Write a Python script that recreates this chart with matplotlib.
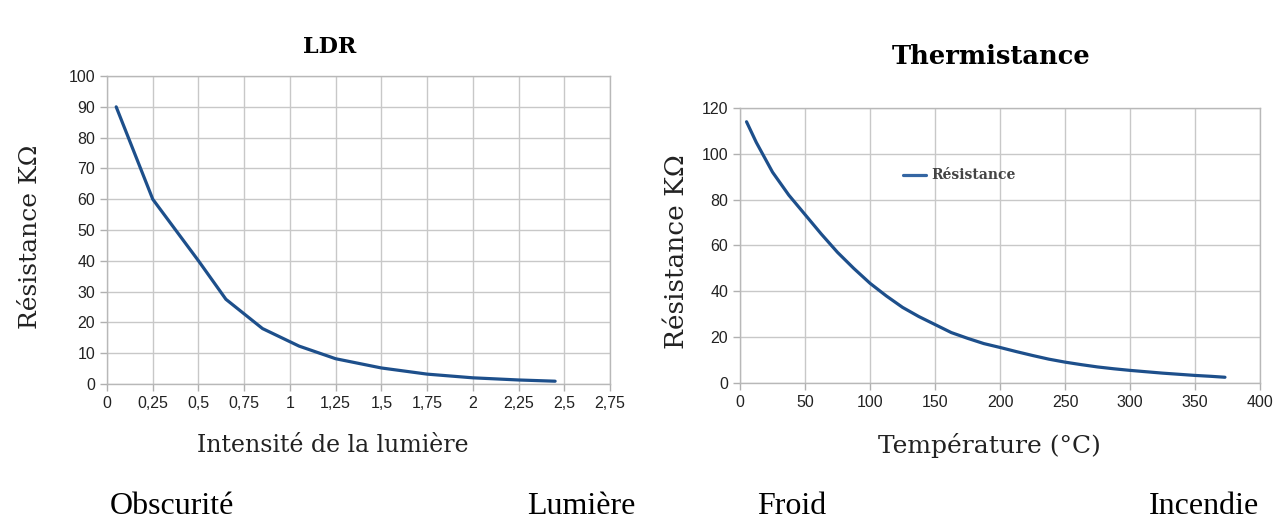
import matplotlib
matplotlib.use("Agg")
import matplotlib.pyplot as plt

# LDR : intensité lumineuse -> résistance (kOhm)
ldr_x = [0.05, 0.25, 0.5, 0.65, 0.85, 1.05, 1.25, 1.5, 1.75, 2.0, 2.25, 2.45]
ldr_r = [90, 60, 40, 27.5, 18, 12.3, 8.2, 5.2, 3.2, 2.0, 1.3, 0.9]
ldr_xticks = [0, 0.25, 0.5, 0.75, 1, 1.25, 1.5, 1.75, 2, 2.25, 2.5, 2.75]
ldr_xlabels = ["0", "0,25", "0,5", "0,75", "1", "1,25", "1,5", "1,75", "2", "2,25", "2,5", "2,75"]
ldr_yticks = list(range(0, 101, 10))

# Thermistance : température (°C) -> résistance (kOhm)
th_t = [5, 12.5, 25, 37.5, 50, 62.5, 75, 87.5, 100, 112.5, 125, 137.5, 150, 162.5,
        175, 187.5, 200, 212.5, 225, 237.5, 250, 262.5, 275, 287.5, 300, 312.5,
        325, 337.5, 350, 362.5, 373]
th_r = [114, 105, 92, 82, 73.5, 65, 57, 50, 43.5, 38, 33, 29, 25.5, 22,
        19.5, 17.2, 15.5, 13.7, 12, 10.4, 9.1, 8.0, 7.0, 6.2, 5.5, 4.9,
        4.3, 3.8, 3.3, 2.9, 2.5]
th_xticks = list(range(0, 401, 50))
th_yticks = list(range(0, 121, 20))

line_col = "#1d4f8b"
grid_col = "#c8c8c8"
tick_font = ["Liberation Sans Narrow", "Liberation Sans", "DejaVu Sans"]
serif = ["DejaVu Serif"]
times = ["Liberation Serif"]

fig = plt.figure(figsize=(12.85, 5.21), dpi=100)


def style(ax):
    for s in ax.spines.values():
        s.set_color("#b8b8b8")
        s.set_linewidth(1)
    ax.grid(True, color=grid_col, linewidth=1)
    ax.set_axisbelow(True)
    ax.tick_params(colors="#b0b0b0", length=5, width=1, labelcolor="#222222", labelsize=11.5)
    for lab in ax.get_xticklabels() + ax.get_yticklabels():
        lab.set_family(tick_font)


ax1 = fig.add_axes([0.0833, 0.263, 0.3914, 0.591])
ax1.plot(ldr_x, ldr_r, color=line_col, linewidth=2.3, solid_capstyle="round")
ax1.set_xlim(0, 2.75)
ax1.set_ylim(0, 100)
ax1.set_xticks(ldr_xticks)
ax1.set_xticklabels(ldr_xlabels)
ax1.set_yticks(ldr_yticks)
style(ax1)

ax2 = fig.add_axes([0.5759, 0.2649, 0.4047, 0.5278])
ax2.plot(th_t, th_r, color=line_col, linewidth=2.3, solid_capstyle="round", label="Résistance")
ax2.set_xlim(0, 400)
ax2.set_ylim(0, 120)
ax2.set_xticks(th_xticks)
ax2.set_yticks(th_yticks)
style(ax2)
leg = ax2.legend(loc="center left", bbox_to_anchor=(0.29, 0.755), frameon=False,
                 handlelength=1.6, handletextpad=0.4,
                 prop={"family": serif, "size": 10, "weight": "bold"})
for t in leg.get_texts():
    t.set_color("#444444")
for h in leg.get_lines():
    h.set_color("#3466a3")

# titres
fig.text(330 / 1285, 1 - 47 / 521, "LDR", ha="center", va="center",
         family=serif, weight="bold", fontsize=16)
fig.text(991 / 1285, 1 - 57 / 521, "Thermistance", ha="center", va="center",
         family=serif, weight="bold", fontsize=18.5)

# libellés d'axes
fig.text(31 / 1285, 1 - 237 / 521, "Résistance KΩ", rotation=90, ha="center", va="center",
         family=serif, fontsize=18, color="#222222")
fig.text(677 / 1285, 1 - 252 / 521, "Résistance KΩ", rotation=90, ha="center", va="center",
         family=serif, fontsize=19, color="#222222")
fig.text(333 / 1285, 1 - 446 / 521, "Intensité de la lumière", ha="center", va="center",
         family=serif, fontsize=17, color="#222222")
fig.text(989 / 1285, 1 - 445 / 521, "Température (°C)", ha="center", va="center",
         family=serif, fontsize=18, color="#222222")

# extrémités
for x, s, ha in [(110, "Obscurité", "left"), (635, "Lumière", "right"),
                 (757, "Froid", "left"), (1259, "Incendie", "right")]:
    fig.text(x / 1285, 1 - 507 / 521, s, ha=ha, va="center", family=times,
             fontsize=23, color="black")

fig.savefig("out.png", dpi=100)
